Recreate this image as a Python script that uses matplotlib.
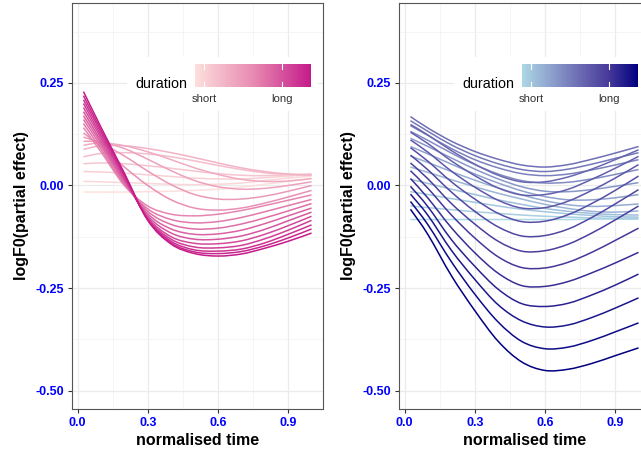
import numpy as np
import matplotlib
matplotlib.use("Agg")
import matplotlib.pyplot as plt
from matplotlib.path import Path
from matplotlib.patches import PathPatch, Rectangle
from matplotlib.colors import LinearSegmentedColormap

plt.rcParams['font.family'] = ['Liberation Sans', 'DejaVu Sans']

times = [0.025, 0.1, 0.2, 0.3, 0.4, 0.5, 0.6, 0.7, 0.8, 0.9, 1.0]

# left panel: short -> long
left_duration = [i / 19 for i in range(20)]
left_curves = [
    [-0.016, -0.016, -0.016, -0.015, -0.014, -0.012, -0.009, -0.004, 0.003, 0.010, 0.017],
    [0.010, 0.009, 0.007, 0.005, 0.003, 0.002, 0.003, 0.006, 0.012, 0.018, 0.023],
    [0.034, 0.033, 0.030, 0.026, 0.022, 0.018, 0.016, 0.016, 0.019, 0.023, 0.027],
    [0.053, 0.055, 0.053, 0.048, 0.042, 0.035, 0.029, 0.025, 0.024, 0.026, 0.028],
    [0.070, 0.078, 0.080, 0.077, 0.070, 0.060, 0.049, 0.039, 0.031, 0.027, 0.027],
    [0.088, 0.097, 0.097, 0.090, 0.080, 0.068, 0.055, 0.043, 0.034, 0.028, 0.025],
    [0.098, 0.104, 0.097, 0.082, 0.063, 0.043, 0.027, 0.015, 0.010, 0.011, 0.017],
    [0.108, 0.106, 0.090, 0.064, 0.036, 0.012, -0.003, -0.009, -0.007, 0.000, 0.009],
    [0.118, 0.103, 0.072, 0.035, 0.002, -0.022, -0.033, -0.033, -0.026, -0.014, 0.000],
    [0.128, 0.095, 0.045, 0.000, -0.035, -0.055, -0.060, -0.055, -0.043, -0.028, -0.012],
    [0.141, 0.082, 0.000, -0.050, -0.070, -0.074, -0.070, -0.061, -0.049, -0.036, -0.023],
    [0.151, 0.089, 0.003, -0.057, -0.083, -0.091, -0.088, -0.078, -0.064, -0.049, -0.034],
    [0.161, 0.096, 0.007, -0.063, -0.095, -0.106, -0.104, -0.094, -0.079, -0.062, -0.044],
    [0.170, 0.103, 0.010, -0.069, -0.106, -0.119, -0.118, -0.109, -0.093, -0.074, -0.055],
    [0.180, 0.109, 0.013, -0.074, -0.116, -0.131, -0.131, -0.123, -0.107, -0.086, -0.065],
    [0.190, 0.116, 0.017, -0.078, -0.125, -0.141, -0.142, -0.135, -0.119, -0.098, -0.075],
    [0.200, 0.122, 0.020, -0.081, -0.131, -0.150, -0.152, -0.146, -0.130, -0.109, -0.085],
    [0.209, 0.129, 0.023, -0.083, -0.136, -0.157, -0.160, -0.155, -0.140, -0.119, -0.096],
    [0.219, 0.135, 0.027, -0.084, -0.140, -0.162, -0.166, -0.161, -0.147, -0.128, -0.106],
    [0.229, 0.142, 0.030, -0.085, -0.143, -0.166, -0.172, -0.167, -0.153, -0.136, -0.116],
]

# right panel: short -> long
right_duration = [0.00, 0.04, 0.08, 0.12, 0.16, 0.20, 0.25, 0.30, 0.35, 0.40, 0.44, 0.48,
                  0.52, 0.56, 0.60, 0.64, 0.68, 0.72, 0.76, 0.80, 0.85, 0.90, 0.95, 1.00]
right_curves = [
    [-0.083, -0.083, -0.083, -0.083, -0.083, -0.083, -0.083, -0.083, -0.082, -0.082, -0.082],
    [-0.050, -0.054, -0.059, -0.064, -0.068, -0.072, -0.075, -0.077, -0.079, -0.080, -0.080],
    [-0.015, -0.022, -0.032, -0.041, -0.050, -0.058, -0.064, -0.069, -0.073, -0.076, -0.077],
    [0.015, 0.005, -0.009, -0.022, -0.035, -0.046, -0.056, -0.063, -0.068, -0.071, -0.072],
    [0.045, 0.032, 0.014, -0.003, -0.019, -0.033, -0.046, -0.056, -0.063, -0.065, -0.062],
    [0.072, 0.056, 0.034, 0.013, -0.006, -0.023, -0.037, -0.047, -0.051, -0.049, -0.045],
    [0.095, 0.077, 0.052, 0.028, 0.006, -0.013, -0.027, -0.035, -0.035, -0.030, -0.022],
    [0.115, 0.095, 0.067, 0.040, 0.016, -0.003, -0.014, -0.015, -0.010, -0.002, 0.007],
    [0.132, 0.110, 0.079, 0.051, 0.028, 0.012, 0.006, 0.008, 0.016, 0.027, 0.039],
    [0.146, 0.122, 0.090, 0.063, 0.043, 0.029, 0.024, 0.028, 0.038, 0.050, 0.063],
    [0.158, 0.132, 0.099, 0.073, 0.053, 0.039, 0.034, 0.040, 0.052, 0.066, 0.080],
    [0.168, 0.140, 0.108, 0.083, 0.064, 0.050, 0.045, 0.051, 0.064, 0.079, 0.095],
    [0.149, 0.123, 0.085, 0.052, 0.025, 0.009, 0.009, 0.021, 0.040, 0.063, 0.087],
    [0.130, 0.102, 0.060, 0.024, -0.006, -0.023, -0.022, -0.009, 0.015, 0.042, 0.071],
    [0.111, 0.081, 0.035, -0.004, -0.036, -0.055, -0.054, -0.038, -0.012, 0.018, 0.051],
    [0.092, 0.059, 0.009, -0.033, -0.068, -0.088, -0.087, -0.071, -0.044, -0.012, 0.023],
    [0.074, 0.038, -0.016, -0.063, -0.101, -0.123, -0.122, -0.106, -0.078, -0.045, -0.010],
    [0.055, 0.016, -0.044, -0.094, -0.136, -0.160, -0.159, -0.143, -0.116, -0.084, -0.050],
    [0.036, -0.007, -0.072, -0.128, -0.174, -0.200, -0.201, -0.187, -0.163, -0.134, -0.104],
    [0.017, -0.031, -0.103, -0.164, -0.214, -0.244, -0.246, -0.234, -0.213, -0.189, -0.163],
    [-0.002, -0.052, -0.132, -0.197, -0.253, -0.288, -0.295, -0.287, -0.267, -0.243, -0.216],
    [-0.021, -0.073, -0.158, -0.229, -0.291, -0.330, -0.345, -0.340, -0.322, -0.299, -0.274],
    [-0.039, -0.096, -0.186, -0.265, -0.333, -0.380, -0.398, -0.394, -0.378, -0.357, -0.335],
    [-0.058, -0.120, -0.220, -0.305, -0.380, -0.430, -0.451, -0.448, -0.434, -0.415, -0.396],
]

pink = LinearSegmentedColormap.from_list("pink", ["#FDE0DD", "#E88BB2", "#C51B8A"])
blue = LinearSegmentedColormap.from_list("blue", ["#ADD8E6", "#8EA1CD", "#6C6BB3", "#46399A", "#000080"])


def smooth(x, y):
    # catmull-rom through the read points, drawn as bezier segments
    pts = np.column_stack([x, y])
    verts = [pts[0]]
    codes = [Path.MOVETO]
    n = len(pts)
    for i in range(n - 1):
        p0 = pts[i - 1] if i > 0 else pts[i]
        p1 = pts[i]
        p2 = pts[i + 1]
        p3 = pts[i + 2] if i + 2 < n else pts[i + 1]
        verts += [p1 + (p2 - p0) / 6, p2 - (p3 - p1) / 6, p2]
        codes += [Path.CURVE4] * 3
    return Path(verts, codes)


def draw_panel(ax, curves, durs, cmap):
    for y, d in zip(curves, durs):
        ax.add_patch(PathPatch(smooth(times, y), fill=False, edgecolor=cmap(d),
                               lw=1.1, zorder=2))
    ax.set_xlim(-0.024, 1.049)
    ax.set_ylim(-0.545, 0.445)
    ax.set_xticks([0.0, 0.3, 0.6, 0.9])
    ax.set_xticklabels(["0.0", "0.3", "0.6", "0.9"])
    ax.set_yticks([-0.5, -0.25, 0.0, 0.25])
    ax.set_yticklabels(["-0.50", "-0.25", "0.00", "0.25"])
    ax.set_xticks([0.15, 0.45, 0.75], minor=True)
    ax.set_yticks([-0.375, -0.125, 0.125, 0.375], minor=True)
    ax.set_axisbelow(True)
    ax.grid(which="major", color="#EBEBEB", lw=0.9)
    ax.grid(which="minor", color="#F2F2F2", lw=0.5)
    ax.tick_params(which="major", length=3, width=0.8, color="#333333",
                   labelcolor="#0000FF", labelsize=9, pad=2.5)
    ax.tick_params(which="minor", length=0)
    for lab in ax.get_xticklabels() + ax.get_yticklabels():
        lab.set_fontweight("bold")
    for s in ax.spines.values():
        s.set_color("#555555")
        s.set_linewidth(0.8)
    ax.set_xlabel("normalised time", fontsize=11.5, fontweight="bold", labelpad=3)
    ax.set_ylabel("logF0(partial effect)", fontsize=11.5, fontweight="bold", labelpad=5)

    # legend inside the panel
    ax.add_patch(Rectangle((0.219, 0.734), 0.761, 0.133, transform=ax.transAxes,
                           facecolor="white", edgecolor="none", zorder=1.5))
    cax = ax.inset_axes([0.49, 0.793, 0.462, 0.057])
    cax.imshow(np.linspace(0, 1, 256)[None, :], aspect="auto", cmap=cmap,
               extent=[0, 1, 0, 1])
    for p in (0.08, 0.75):
        cax.plot([p, p], [0, 0.2], color="white", lw=0.8)
        cax.plot([p, p], [0.8, 1], color="white", lw=0.8)
    cax.set_xlim(0, 1)
    cax.set_ylim(0, 1)
    cax.set_axis_off()
    ax.text(0.458, 0.80, "duration", transform=ax.transAxes, ha="right",
            va="center", fontsize=10.3, zorder=3)
    ax.text(0.49 + 0.462 * 0.08, 0.764, "short", transform=ax.transAxes,
            ha="center", va="center", fontsize=8.2, color="#333333", zorder=3)
    ax.text(0.49 + 0.462 * 0.75, 0.764, "long", transform=ax.transAxes,
            ha="center", va="center", fontsize=8.2, color="#333333", zorder=3)


fig = plt.figure(figsize=(6.41, 4.5), dpi=100)
ax1 = fig.add_axes([72 / 641, 41 / 450, 251 / 641, 406 / 450])
ax2 = fig.add_axes([399 / 641, 41 / 450, 251 / 641, 406 / 450])

draw_panel(ax1, left_curves, left_duration, pink)
draw_panel(ax2, right_curves, right_duration, blue)

fig.savefig("out.png", dpi=100)
